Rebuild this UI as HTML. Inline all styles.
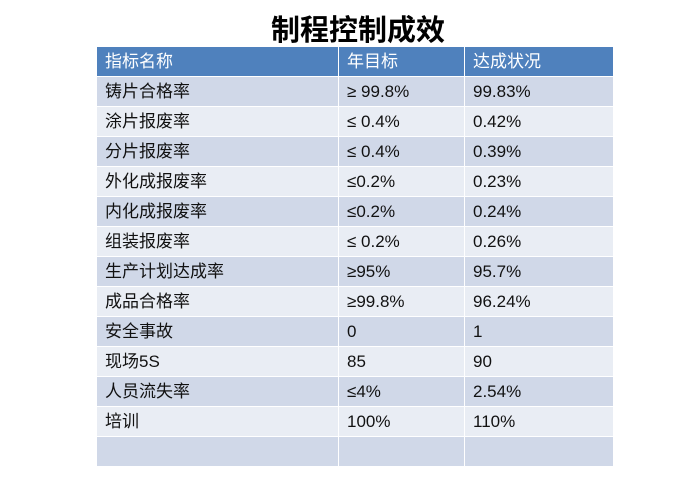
<!DOCTYPE html>
<html><head><meta charset="utf-8"><style>
body{margin:0;width:700px;height:483px;background:#fff;overflow:hidden;font-family:"Liberation Sans","Noto Sans CJK SC",sans-serif;position:relative}
.t{position:absolute;left:96px;top:13px;width:524px;text-align:center;font-size:29px;font-weight:bold;color:#000;line-height:36px}
table{position:absolute;left:96px;top:46px;border-collapse:collapse;width:517px;table-layout:fixed}
td{border:1.5px solid #fff;height:30px;box-sizing:border-box;padding:0 0 0 8px;font-size:17px;color:#111;line-height:20px}
tr{height:30px}
tr.h td{background:#4f81bd;color:#fff}
tr.o td{background:#d0d8e8}
tr.e td{background:#e9edf4}
</style></head><body>
<div class="t">制程控制成效</div>
<table>
<colgroup><col style="width:242px"><col style="width:126px"><col style="width:149px"></colgroup>
<tr class="h"><td>指标名称</td><td>年目标</td><td>达成状况</td></tr>
<tr class="o"><td>铸片合格率</td><td>≥ 99.8%</td><td>99.83%</td></tr>
<tr class="e"><td>涂片报废率</td><td>≤ 0.4%</td><td>0.42%</td></tr>
<tr class="o"><td>分片报废率</td><td>≤ 0.4%</td><td>0.39%</td></tr>
<tr class="e"><td>外化成报废率</td><td>≤0.2%</td><td>0.23%</td></tr>
<tr class="o"><td>内化成报废率</td><td>≤0.2%</td><td>0.24%</td></tr>
<tr class="e"><td>组装报废率</td><td>≤ 0.2%</td><td>0.26%</td></tr>
<tr class="o"><td>生产计划达成率</td><td>≥95%</td><td>95.7%</td></tr>
<tr class="e"><td>成品合格率</td><td>≥99.8%</td><td>96.24%</td></tr>
<tr class="o"><td>安全事故</td><td>0</td><td>1</td></tr>
<tr class="e"><td>现场5S</td><td>85</td><td>90</td></tr>
<tr class="o"><td>人员流失率</td><td>≤4%</td><td>2.54%</td></tr>
<tr class="e"><td>培训</td><td>100%</td><td>110%</td></tr>
<tr class="o"><td></td><td></td><td></td></tr>
</table>
</body></html>
